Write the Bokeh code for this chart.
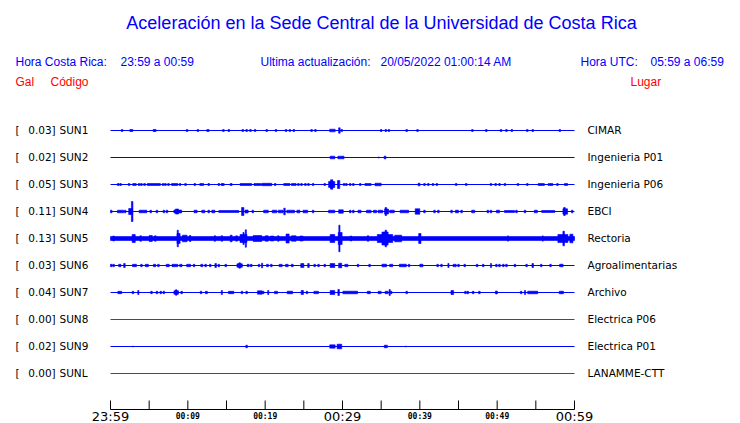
from bokeh.plotting import figure
from bokeh.models import Range1d, Label, ColumnDataSource
from bokeh.embed import file_html
from bokeh.resources import INLINE

# ---------------- data ----------------
TITLE = "Aceleración en la Sede Central de la Universidad de Costa Rica"
HEADER_LEFT = ["Hora Costa Rica:", "23:59 a 00:59"]
HEADER_MID = ["Ultima actualización:", "20/05/2022 01:00:14 AM"]
HEADER_RIGHT = ["Hora UTC:", "05:59 a 06:59"]
COLUMN_HEADS = ["Gal", "Código", "Lugar"]

codes = ["SUN1", "SUN2", "SUN3", "SUN4", "SUN5", "SUN6", "SUN7", "SUN8", "SUN9", "SUNL"]
peaks = [0.03, 0.02, 0.05, 0.11, 0.13, 0.03, 0.04, 0.00, 0.02, 0.00]
places = ["CIMAR", "Ingenieria P01", "Ingenieria P06", "EBCI", "Rectoria",
          "Agroalimentarias", "Archivo", "Electrica P06", "Electrica P01", "LANAMME-CTT"]
# continuous background noise half-amplitude (relative units)
noise = [0, 0, 0, 0, 2.0, 0, 0, 0, 0, 0]

# time axis, minutes after 23:59
t_start, t_end = 0, 60
tick_minutes = [0, 5, 10, 15, 20, 25, 30, 35, 40, 45, 50, 55, 60]
label_minutes = [0, 10, 20, 30, 40, 50, 60]
label_texts = ["23:59", "00:09", "00:19", "00:29", "00:39", "00:49", "00:59"]
big_label_minutes = [0, 30, 60]

# bursts per station: (centre minute, duration minutes, half amplitude relative units)
SUN1 = [(1.5, .2, 1), (2.6, .2, 1), (2.8, .2, 1), (5.6, .2, 1), (5.8, .2, 1), (9.9, .2, 1),
        (11.3, .2, 1), (12.6, .3, 1), (14.6, .2, 1), (15.3, .2, 1), (17.1, .2, 1), (17.6, .2, 1),
        (18.1, .2, 1), (18.7, .2, 1), (20.2, .2, 1), (21.4, .2, 1), (22.7, .2, 1), (23.2, .2, 1),
        (23.7, .2, 1), (26.0, .2, 1), (26.5, .2, 1), (28.7, .7, 1.3), (29.6, .2, 2.7),
        (29.9, .2, 1), (35.0, .2, 1), (35.6, .2, 1), (36.0, .2, 1), (38.3, .2, 1), (39.7, .2, 1),
        (46.8, .2, 1), (48.6, .2, 1), (50.5, .2, 1), (51.2, .2, 1), (51.9, .2, 1), (53.9, .2, 1),
        (54.6, .2, 1), (58.1, .2, 1)]
SUN2 = [(28.7, .6, 1.3), (29.8, .8, 1.3), (34.7, .1, .6), (35.5, .25, 1.3)]
SUN3 = [(1.0, .2, 1), (1.3, .2, 1), (2.4, .2, 1), (3.1, .45, 1), (3.7, .2, 1), (4.0, .2, 1),
        (4.4, .2, 1), (5.6, 1.7, 1), (6.8, .2, 1), (7.1, .2, 1), (7.5, .2, 1), (8.3, .8, 1),
        (9.0, .2, 1), (9.7, .2, 1), (10.9, .2, 1), (11.8, .5, 1), (12.7, .2, 1), (14.0, .2, 1),
        (14.4, .2, 1), (14.6, .2, 1), (15.6, .25, 1), (17.5, 1.5, 1), (19.0, .9, 1),
        (20.2, 1.3, 1.2), (21.3, .2, 1), (22.8, .8, 1), (23.7, .6, 1), (24.3, .2, 1),
        (24.7, .2, 1), (25.2, .2, 1), (25.6, .2, 1), (26.2, .2, 1), (27.7, .2, 1),
        (28.6, .8, 3.0), (28.6, .3, 4.7), (29.5, .3, 4.0), (30.2, .2, 1), (30.5, .2, 1),
        (31.0, .2, 1), (31.4, .2, 1), (32.3, .2, 1), (33.3, .8, 1), (34.6, .8, 1.3),
        (39.9, .25, 1.3), (40.6, .2, 1), (41.1, .2, 1), (41.7, .2, 1), (42.2, .2, 1),
        (44.7, .2, 1), (46.0, .2, 1), (49.2, .2, 1), (49.8, .2, 1), (50.3, .2, 1), (51.0, .2, 1),
        (52.7, .2, 1), (53.9, .2, 1), (55.7, .8, 1), (56.9, .6, 1), (57.8, .2, 1), (58.9, .4, 1)]
SUN4 = [(0.1, .2, 1.3), (1.3, .8, 1.3), (1.9, .2, 1.3), (2.6, .5, 3), (2.8, .2, 10),
        (4.2, 1.0, 1.3), (5.2, .2, 1.3), (6.0, .2, 1.3), (6.9, .2, 1.3), (7.3, .2, 1.3),
        (8.7, 1.0, 1.5), (8.6, .4, 2.5), (11.0, .4, 1.3), (12.0, .4, 1.3), (12.7, .2, 1.3),
        (13.3, .4, 1.3), (15.3, 2.6, 1.0), (17.1, .3, 4), (17.6, .4, 1.5), (18.4, .2, 1.3),
        (20.1, .6, 1.3), (21.2, .6, 1.3), (22.0, .6, 1.3), (22.5, .2, 3.3), (23.3, 1.0, 1.3),
        (24.3, .4, 1.3), (25.2, .6, 1.3), (26.2, .2, 1.3), (28.6, .8, 1.3), (29.8, .6, 1.7),
        (31.0, .2, 1.3), (31.4, .2, 1.3), (32.2, .4, 1.3), (33.4, .6, 1.3), (34.2, .4, 1.3),
        (34.9, .6, 1.3), (35.7, .5, 2.5), (35.6, .2, 4), (36.4, .6, 1.3), (38.0, 1.1, 1.3),
        (39.7, .6, 2.7), (40.6, .2, 1.3), (41.9, .2, 1.3), (42.4, .2, 1.3), (44.1, .2, 1.3),
        (44.7, .2, 1.3), (44.9, .2, 1.3), (45.4, .2, 1.3), (46.9, .4, 1.3), (48.8, .2, 1.3),
        (49.2, .2, 1.3), (50.1, .4, 1.3), (51.6, 1.3, 1.0), (52.5, .2, 1.3), (53.6, .2, 1.3),
        (55.0, .4, 1.3), (56.6, 1.7, 1.0), (58.8, .6, 2.7), (58.7, .2, 4), (59.7, .2, 1.3)]
SUN5 = [(0.4, .2, 2.5), (3.0, .4, 4), (3.9, .2, 2.7), (5.2, .4, 3), (5.8, .2, 2.7),
        (8.8, .4, 5), (8.7, .15, 8.3), (9.6, .6, 3.3), (10.3, .2, 3), (13.5, .2, 2.7),
        (14.4, .2, 2.7), (15.6, .25, 3.3), (16.3, .2, 2.7), (17.2, .9, 4), (17.5, .15, 8.7),
        (17.2, .15, 6), (19.0, 1.1, 3), (20.2, .4, 2.7), (20.9, .4, 2.5), (21.7, .2, 2.7),
        (22.9, .4, 4.5), (23.7, .6, 2.7), (24.7, .4, 2.5), (28.7, .6, 4), (29.7, .5, 6),
        (29.6, .15, 13.3), (31.1, .2, 2.5), (33.3, .2, 2.7), (35.5, 2.0, 4), (35.5, .8, 6.5),
        (35.6, .2, 8.3), (37.2, .9, 3.3), (40.0, .3, 5.0), (51.4, .1, 2.7), (55.9, .1, 2.7),
        (58.5, 1.3, 4), (58.6, .2, 7.3), (59.6, .4, 4.3)]
SUN6 = [(0.1, .2, 1.2), (0.4, .2, 1.2), (1.2, .3, 1.2), (1.8, .2, 2), (3.1, .5, 1.2),
        (4.0, .2, 1.2), (4.7, .4, 1.2), (5.7, .3, 1.2), (6.2, .2, 1.2), (7.4, .4, 1.2),
        (8.2, .5, 1.2), (8.6, .2, 1.2), (9.1, .3, 1.2), (10.1, .5, 1.2), (10.8, .2, 1.2),
        (11.8, .25, 1.2), (12.3, .2, 1.2), (12.9, .2, 1.2), (13.6, .2, 2), (14.0, .2, 1.2),
        (14.9, .2, 1.2), (16.7, .7, 1.7), (16.7, .2, 2.7), (17.8, .25, 1.2), (18.2, .2, 1.2),
        (19.2, .2, 1.2), (19.6, .15, 2.3), (20.3, .25, 1.2), (20.8, .2, 1.2), (22.0, .4, 1.2),
        (22.8, .35, 1.2), (23.5, .25, 1.2), (24.8, .4, 2), (25.6, .2, 2), (26.4, .2, 1.2),
        (26.9, .2, 1.2), (27.7, .2, 1.2), (28.7, .6, 2), (29.7, .4, 2.3), (30.5, .4, 1.2),
        (32.0, .2, 1.2), (33.5, .2, 1.2), (35.4, .6, 1.3), (36.3, .4, 1.2), (37.8, .9, 1.3),
        (38.6, .2, 1.2), (40.2, .4, 1.3), (42.3, .2, 1.2), (42.8, .2, 1.2), (43.7, .15, 2),
        (44.5, .4, 1.2), (45.0, .2, 1.2), (45.8, .2, 1.2), (47.4, .2, 1.2), (48.2, .2, 1.2),
        (49.2, .15, 2), (49.9, .2, 1.2), (50.3, .2, 1.2), (50.8, .2, 1.2), (51.2, .2, 1.2),
        (52.3, .2, 1.2), (53.8, .2, 1.2), (54.6, .2, 2), (55.7, .2, 1.2), (56.9, .2, 1.2),
        (58.3, .45, 1.3)]
SUN7 = [(1.2, .5, 1.2), (2.9, .2, 1.2), (3.6, .15, 2), (5.3, .2, 1.2), (6.0, .2, 1.2),
        (6.5, .2, 1.2), (6.9, .2, 1.2), (8.5, .6, 1.7), (8.5, .2, 2.7), (9.2, .2, 1.2),
        (11.7, .2, 1.2), (12.4, .25, 1.2), (14.4, .15, 2), (15.6, .7, 1.2), (17.0, .2, 1.2),
        (17.6, .2, 1.2), (19.3, .6, 1.7), (19.7, .3, 1.2), (20.4, .15, 2), (21.4, .4, 1.2),
        (23.2, .7, 1.3), (24.8, .3, 2), (25.4, .2, 1.2), (26.6, .6, 1.2), (28.7, .6, 2),
        (29.5, .2, 3), (31.0, 1.9, 1.3), (33.3, .2, 1.2), (33.5, .2, 1.2), (34.8, .4, 1.2),
        (35.7, .4, 1.2), (36.1, .15, 3), (36.3, .2, 1.2), (38.3, .2, 1.2), (44.2, .35, 2),
        (45.9, .2, 1.2), (46.2, .2, 1.2), (46.9, .2, 1.2), (47.7, .2, 1.2), (49.9, .25, 1.5),
        (53.1, .2, 1.2), (53.6, .15, 2), (54.6, 1.3, 1.3), (58.3, .55, 1.3)]
SUN8 = []
SUN9 = [(2.9, .05, .6), (17.6, .2, 1.3), (28.7, .7, 1.7), (29.6, .6, 2.3), (35.6, .4, 1.3),
        (38.2, .05, .6)]
SUNL = []
bursts = [SUN1, SUN2, SUN3, SUN4, SUN5, SUN6, SUN7, SUN8, SUN9, SUNL]

# ---------------- styling / layout ----------------
BLUE = "#0000ff"
RED = "#ff0000"
W, H = 740, 423
ROW_PX = 27.0            # vertical spacing of traces in pixels
AMP = 1.0 / ROW_PX       # relative amplitude unit -> row units
ROW0_PX = 130            # centre of first trace
X0_PX, X1_PX = 110, 574  # pixel span of the hour
AXIS_PX = 409
TICK_PX = 9


def X(px):
    return t_start + (px - X0_PX) * (t_end - t_start) / (X1_PX - X0_PX)


def Y(px):
    return (px - ROW0_PX) / ROW_PX


p = figure(width=W, height=H, output_backend="svg", toolbar_location=None,
           x_range=Range1d(X(0), X(W)), y_range=Range1d(Y(H), Y(0)),
           x_axis_location=None, y_axis_location=None,
           min_border=0, min_border_left=0, min_border_right=0,
           min_border_top=0, min_border_bottom=0,
           outline_line_color=None, background_fill_color="white",
           border_fill_color="white")
p.xgrid.visible = False
p.ygrid.visible = False

# baselines
base = dict(x0=[], x1=[], y=[], color=[])
for i, pk in enumerate(peaks):
    base["x0"].append(t_start)
    base["x1"].append(t_end)
    base["y"].append(i)
    base["color"].append(RED if pk == 0 else BLUE)
p.segment(x0="x0", x1="x1", y0="y", y1="y", line_color="color", line_width=1.2,
          source=ColumnDataSource(base))

# noise bands and bursts
q = dict(left=[], right=[], bottom=[], top=[])
for i, n in enumerate(noise):
    if n > 0:
        q["left"].append(t_start)
        q["right"].append(t_end)
        q["bottom"].append(i - n * AMP)
        q["top"].append(i + n * AMP)
for i, bl in enumerate(bursts):
    for (tc, d, a) in bl:
        q["left"].append(tc - d / 2)
        q["right"].append(tc + d / 2)
        q["bottom"].append(i - a * AMP)
        q["top"].append(i + a * AMP)
p.quad(left="left", right="right", bottom="bottom", top="top", source=ColumnDataSource(q),
       fill_color=BLUE, line_color=BLUE, line_width=0.6)

# time axis (line + inward ticks)
p.segment(x0=[t_start], x1=[t_end], y0=[Y(AXIS_PX)], y1=[Y(AXIS_PX)],
          line_color="black", line_width=1)
p.segment(x0=tick_minutes, x1=tick_minutes, y0=[Y(AXIS_PX)] * len(tick_minutes),
          y1=[Y(AXIS_PX - TICK_PX)] * len(tick_minutes), line_color="black", line_width=1)

for m, txt in zip(label_minutes, label_texts):
    if m in big_label_minutes:
        p.add_layout(Label(x=m, y=Y(416), text=txt, text_align="center",
                           text_baseline="alphabetic", text_font="DejaVu Sans",
                           text_font_size="13px", text_color="black"))
    else:
        p.add_layout(Label(x=m, y=Y(415.5), text=txt, text_align="center",
                           text_baseline="alphabetic", text_font="DejaVu Sans Mono",
                           text_font_style="bold", text_font_size="8px", text_color="black"))

# station labels
for i, (c, pk, pl) in enumerate(zip(codes, peaks, places)):
    common = dict(y=i - 0.03, text_baseline="middle", text_font="DejaVu Sans",
                  text_font_size="10.5px", text_color="black")
    p.add_layout(Label(x=X(15), text="[", **common))
    p.add_layout(Label(x=X(27.7), text=f"{pk:.2f}]", **common))
    p.add_layout(Label(x=X(59), text=c, **common))
    p.add_layout(Label(x=X(587), text=pl, **common))

# title and headers
p.add_layout(Label(x=X(381), y=Y(22), text=TITLE, text_align="center", text_baseline="middle",
                   text_font="Liberation Sans", text_font_size="18px", text_color=BLUE))
hdr = dict(y=Y(61), text_baseline="middle", text_font="Liberation Sans",
           text_font_size="12px", text_color=BLUE)
for xi, txt in zip([15, 120, 260, 380, 580, 650], HEADER_LEFT + HEADER_MID + HEADER_RIGHT):
    p.add_layout(Label(x=X(xi), text=txt, **hdr))
red = dict(y=Y(81), text_baseline="middle", text_font="Liberation Sans",
           text_font_size="12px", text_color=RED)
for xi, txt in zip([15, 50, 630], COLUMN_HEADS):
    p.add_layout(Label(x=X(xi), text=txt, **red))

open("out.html", "w").write(file_html(p, INLINE))
